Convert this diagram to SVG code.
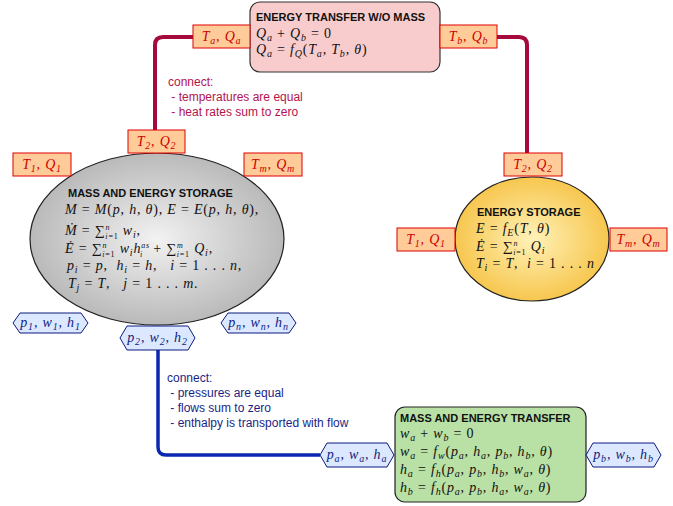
<svg xmlns="http://www.w3.org/2000/svg" width="673" height="506" viewBox="0 0 673 506">
<defs>
<radialGradient id="gGray" cx="50%" cy="50%" r="55%">
<stop offset="0" stop-color="#f2f2f2"/><stop offset="1" stop-color="#b4b4b4"/>
</radialGradient>
<radialGradient id="gYel" cx="50%" cy="50%" r="55%">
<stop offset="0" stop-color="#fff2b8"/><stop offset="1" stop-color="#f6c244"/>
</radialGradient>
</defs>
<style>
.t{font-family:"Liberation Sans",Arial,sans-serif;font-weight:bold;font-size:11px;fill:#111}
.m{font-family:"Liberation Serif","Times New Roman",serif;font-size:14px;letter-spacing:0.8px;fill:#111}
.i{font-style:italic}
.s{font-size:10px}
.ss{font-size:8px}
.rp{fill:#ffcc99;stroke:#e00000;stroke-width:1}
.rt{font-family:"Liberation Serif",serif;font-size:14px;letter-spacing:0.8px;fill:#cc0000;font-style:italic;text-anchor:middle}
.bp{fill:#dce8ff;stroke:#0a1a80;stroke-width:1}
.bt{font-family:"Liberation Serif",serif;font-size:14px;letter-spacing:0.8px;fill:#101c80;font-style:italic;text-anchor:middle}
.ct{font-family:"Liberation Sans",Arial,sans-serif;font-size:12px}
</style>
<g id="connectors" fill="none">
<path d="M193,37 H163 Q155,37 155,45 V130" stroke="#a50a3c" stroke-width="4"/>
<path d="M497,37 H519 Q527,37 527,45 V153" stroke="#a50a3c" stroke-width="4"/>
<path d="M158,350 V447 Q158,455 166,455 H320" stroke="#0a28b0" stroke-width="3.5"/>
</g>
<g id="heat-connect-label" class="ct" fill="#b3134d">
<text x="168" y="86">connect:</text>
<text x="168" y="101" xml:space="preserve"> - temperatures are equal</text>
<text x="168" y="116" xml:space="preserve"> - heat rates sum to zero</text>
</g>
<g id="mass-connect-label" class="ct" fill="#1a1f85">
<text x="167" y="382">connect:</text>
<text x="167" y="397" xml:space="preserve"> - pressures are equal</text>
<text x="167" y="412" xml:space="preserve"> - flows sum to zero</text>
<text x="167" y="427" xml:space="preserve"> - enthalpy is transported with flow</text>
</g>
<g id="energy-transfer">
<rect x="250" y="2" width="190" height="70" rx="10" fill="#f8cccc" stroke="#333" stroke-width="1.2"/>
<text class="t" x="256" y="21">ENERGY TRANSFER W/O MASS</text>
<text class="m" x="256" y="38"><tspan class="i">Q</tspan><tspan class="s i" dy="3">a</tspan><tspan dy="-3"> + </tspan><tspan class="i">Q</tspan><tspan class="s i" dy="3">b</tspan><tspan dy="-3"> = 0</tspan></text>
<text class="m" x="256" y="54"><tspan class="i">Q</tspan><tspan class="s i" dy="3">a</tspan><tspan dy="-3"> = </tspan><tspan class="i">f</tspan><tspan class="s i" dy="3">Q</tspan><tspan dy="-3">(</tspan><tspan class="i">T</tspan><tspan class="s i" dy="3">a</tspan><tspan dy="-3">, </tspan><tspan class="i">T</tspan><tspan class="s i" dy="3">b</tspan><tspan dy="-3">, </tspan><tspan class="i">θ</tspan><tspan>)</tspan></text>
</g>
<g id="port-Ta"><rect class="rp" x="193" y="25" width="57" height="23"/><text class="rt" x="221.5" y="41">T<tspan class="s" dy="3">a</tspan><tspan dy="-3">, Q</tspan><tspan class="s" dy="3">a</tspan></text></g>
<g id="port-Tb"><rect class="rp" x="440" y="25" width="57" height="23"/><text class="rt" x="468.5" y="41">T<tspan class="s" dy="3">b</tspan><tspan dy="-3">, Q</tspan><tspan class="s" dy="3">b</tspan></text></g>
<g id="mass-energy-storage">
<ellipse cx="157" cy="239" rx="127" ry="86" fill="url(#gGray)" stroke="#222" stroke-width="1.2"/>
<text class="t" x="68" y="197">MASS AND ENERGY STORAGE</text>
<text class="m" x="65" y="214"><tspan class="i">M</tspan> = <tspan class="i">M</tspan>(<tspan class="i">p</tspan>, <tspan class="i">h</tspan>, <tspan class="i">θ</tspan>),  <tspan class="i">E</tspan> = <tspan class="i">E</tspan>(<tspan class="i">p</tspan>, <tspan class="i">h</tspan>, <tspan class="i">θ</tspan>),</text>
<text class="m" x="65" y="235"><tspan class="i">Ṁ</tspan> = ∑<tspan class="ss i" dy="-5.5">n</tspan><tspan class="ss" dx="-5" dy="9"><tspan class="i">i</tspan>=1</tspan><tspan dy="-3.5"> </tspan><tspan class="i">w</tspan><tspan class="s i" dy="3">i</tspan><tspan dy="-3">,</tspan></text>
<text class="m" x="65" y="253"><tspan class="i">Ė</tspan> = ∑<tspan class="ss i" dy="-5.5">n</tspan><tspan class="ss" dx="-5" dy="9"><tspan class="i">i</tspan>=1</tspan><tspan dy="-3.5"> </tspan><tspan class="i">w</tspan><tspan class="s i" dy="3">i</tspan><tspan class="i" dy="-3">h</tspan><tspan class="ss i" dy="-5.5">as</tspan><tspan class="ss i" dx="-10" dy="9">i</tspan><tspan dx="6" dy="-3.5"> + ∑</tspan><tspan class="ss i" dy="-5.5">m</tspan><tspan class="ss" dx="-7" dy="9"><tspan class="i">i</tspan>=1</tspan><tspan dy="-3.5"> </tspan><tspan class="i">Q</tspan><tspan class="s i" dy="3">i</tspan><tspan dy="-3">,</tspan></text>
<text class="m" x="67" y="270" xml:space="preserve"><tspan class="i">p</tspan><tspan class="s i" dy="3">i</tspan><tspan dy="-3"> = </tspan><tspan class="i">p</tspan>,  <tspan class="i">h</tspan><tspan class="s i" dy="3">i</tspan><tspan dy="-3"> = </tspan><tspan class="i">h</tspan>,   <tspan class="i">i</tspan> = 1 . . . <tspan class="i">n</tspan>,</text>
<text class="m" x="68" y="288" xml:space="preserve"><tspan class="i">T</tspan><tspan class="s i" dy="3">j</tspan><tspan dy="-3"> = </tspan><tspan class="i">T</tspan>,   <tspan class="i">j</tspan> = 1 . . . <tspan class="i">m</tspan>.</text>
</g>
<g id="port-L-T1"><rect class="rp" x="13" y="153" width="58" height="23"/><text class="rt" x="42" y="169">T<tspan class="s" dy="3">1</tspan><tspan dy="-3">, Q</tspan><tspan class="s" dy="3">1</tspan></text></g>
<g id="port-L-T2"><rect class="rp" x="128" y="130" width="57" height="23"/><text class="rt" x="156.5" y="146">T<tspan class="s" dy="3">2</tspan><tspan dy="-3">, Q</tspan><tspan class="s" dy="3">2</tspan></text></g>
<g id="port-L-Tm"><rect class="rp" x="244" y="153" width="58" height="23"/><text class="rt" x="273" y="169">T<tspan class="s" dy="3">m</tspan><tspan dy="-3">, Q</tspan><tspan class="s" dy="3">m</tspan></text></g>
<g id="port-p1"><polygon class="bp" points="13,323 20,313 81,313 88,323 81,333 20,333"/><text class="bt" x="50.5" y="327">p<tspan class="s" dy="3">1</tspan><tspan dy="-3">, w</tspan><tspan class="s" dy="3">1</tspan><tspan dy="-3">, h</tspan><tspan class="s" dy="3">1</tspan></text></g>
<g id="port-p2"><polygon class="bp" points="120,338 127,326 188,326 195,338 188,350 127,350"/><text class="bt" x="157.5" y="342">p<tspan class="s" dy="3">2</tspan><tspan dy="-3">, w</tspan><tspan class="s" dy="3">2</tspan><tspan dy="-3">, h</tspan><tspan class="s" dy="3">2</tspan></text></g>
<g id="port-pn"><polygon class="bp" points="221,323 228,313 289,313 296,323 289,333 228,333"/><text class="bt" x="258.5" y="327">p<tspan class="s" dy="3">n</tspan><tspan dy="-3">, w</tspan><tspan class="s" dy="3">n</tspan><tspan dy="-3">, h</tspan><tspan class="s" dy="3">n</tspan></text></g>
<g id="energy-storage">
<ellipse cx="532" cy="239" rx="77" ry="62" fill="url(#gYel)" stroke="#222" stroke-width="1.2"/>
<text class="t" x="477" y="216">ENERGY STORAGE</text>
<text class="m" x="476" y="233"><tspan class="i">E</tspan> = <tspan class="i">f</tspan><tspan class="s i" dy="3">E</tspan><tspan dy="-3">(</tspan><tspan class="i">T</tspan>, <tspan class="i">θ</tspan>)</text>
<text class="m" x="476" y="251"><tspan class="i">Ė</tspan> = ∑<tspan class="ss i" dy="-5.5">n</tspan><tspan class="ss" dx="-5" dy="9"><tspan class="i">i</tspan>=1</tspan><tspan dy="-3.5"> </tspan><tspan class="i">Q</tspan><tspan class="s i" dy="3">i</tspan></text>
<text class="m" x="476" y="268" xml:space="preserve"><tspan class="i">T</tspan><tspan class="s i" dy="3">i</tspan><tspan dy="-3"> = </tspan><tspan class="i">T</tspan>,  <tspan class="i">i</tspan> = 1 . . . <tspan class="i">n</tspan></text>
</g>
<g id="port-R-T1"><rect class="rp" x="397" y="228" width="58" height="23"/><text class="rt" x="426" y="244">T<tspan class="s" dy="3">1</tspan><tspan dy="-3">, Q</tspan><tspan class="s" dy="3">1</tspan></text></g>
<g id="port-R-T2"><rect class="rp" x="504" y="153" width="58" height="23"/><text class="rt" x="533" y="169">T<tspan class="s" dy="3">2</tspan><tspan dy="-3">, Q</tspan><tspan class="s" dy="3">2</tspan></text></g>
<g id="port-R-Tm"><rect class="rp" x="610" y="228" width="57" height="23"/><text class="rt" x="638.5" y="244">T<tspan class="s" dy="3">m</tspan><tspan dy="-3">, Q</tspan><tspan class="s" dy="3">m</tspan></text></g>
<g id="mass-energy-transfer">
<rect x="395" y="407" width="191" height="95" rx="10" fill="#b9e0a5" stroke="#222" stroke-width="1.2"/>
<text class="t" x="400" y="422">MASS AND ENERGY TRANSFER</text>
<text class="m" x="400" y="438"><tspan class="i">w</tspan><tspan class="s i" dy="3">a</tspan><tspan dy="-3"> + </tspan><tspan class="i">w</tspan><tspan class="s i" dy="3">b</tspan><tspan dy="-3"> = 0</tspan></text>
<text class="m" x="400" y="456"><tspan class="i">w</tspan><tspan class="s i" dy="3">a</tspan><tspan dy="-3"> = </tspan><tspan class="i">f</tspan><tspan class="s i" dy="3">w</tspan><tspan dy="-3">(</tspan><tspan class="i">p</tspan><tspan class="s i" dy="3">a</tspan><tspan dy="-3">, </tspan><tspan class="i">h</tspan><tspan class="s i" dy="3">a</tspan><tspan dy="-3">, </tspan><tspan class="i">p</tspan><tspan class="s i" dy="3">b</tspan><tspan dy="-3">, </tspan><tspan class="i">h</tspan><tspan class="s i" dy="3">b</tspan><tspan dy="-3">, </tspan><tspan class="i">θ</tspan>)</text>
<text class="m" x="400" y="474"><tspan class="i">h</tspan><tspan class="s i" dy="3">a</tspan><tspan dy="-3"> = </tspan><tspan class="i">f</tspan><tspan class="s i" dy="3">h</tspan><tspan dy="-3">(</tspan><tspan class="i">p</tspan><tspan class="s i" dy="3">a</tspan><tspan dy="-3">, </tspan><tspan class="i">p</tspan><tspan class="s i" dy="3">b</tspan><tspan dy="-3">, </tspan><tspan class="i">h</tspan><tspan class="s i" dy="3">b</tspan><tspan dy="-3">, </tspan><tspan class="i">w</tspan><tspan class="s i" dy="3">a</tspan><tspan dy="-3">, </tspan><tspan class="i">θ</tspan>)</text>
<text class="m" x="400" y="492"><tspan class="i">h</tspan><tspan class="s i" dy="3">b</tspan><tspan dy="-3"> = </tspan><tspan class="i">f</tspan><tspan class="s i" dy="3">h</tspan><tspan dy="-3">(</tspan><tspan class="i">p</tspan><tspan class="s i" dy="3">a</tspan><tspan dy="-3">, </tspan><tspan class="i">p</tspan><tspan class="s i" dy="3">b</tspan><tspan dy="-3">, </tspan><tspan class="i">h</tspan><tspan class="s i" dy="3">a</tspan><tspan dy="-3">, </tspan><tspan class="i">w</tspan><tspan class="s i" dy="3">a</tspan><tspan dy="-3">, </tspan><tspan class="i">θ</tspan>)</text>
</g>
<g id="port-pa"><polygon class="bp" points="320,455 327,443 387,443 394,455 387,467 327,467"/><text class="bt" x="357" y="459">p<tspan class="s" dy="3">a</tspan><tspan dy="-3">, w</tspan><tspan class="s" dy="3">a</tspan><tspan dy="-3">, h</tspan><tspan class="s" dy="3">a</tspan></text></g>
<g id="port-pb"><polygon class="bp" points="586,455 593,443 654,443 661,455 654,467 593,467"/><text class="bt" x="623.5" y="459">p<tspan class="s" dy="3">b</tspan><tspan dy="-3">, w</tspan><tspan class="s" dy="3">b</tspan><tspan dy="-3">, h</tspan><tspan class="s" dy="3">b</tspan></text></g>
</svg>
